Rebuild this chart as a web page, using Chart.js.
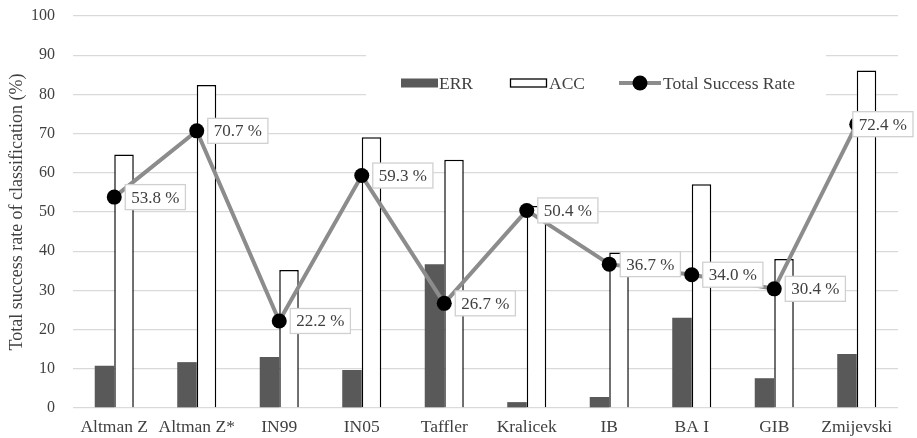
<!DOCTYPE html>
<html lang="en">
  <head>
    <meta charset="UTF-8" />
    <title>Total success rate of classification</title>
    <script src="https://cdn.jsdelivr.net/npm/chart.js"></script>
    <style>
      * {
        box-sizing: border-box;
        padding: 0;
        margin: 0;
      }
      body {
        background: #fff;
      }
      .wrap {
        width: 917px;
        height: 438px;
      }
    </style>
  </head>
  <body>
    <div class="wrap">
      <canvas id="myChart"></canvas>
    </div>
  </body>
  <script>
    const models = [
      "Altman Z", "Altman Z*", "IN99", "IN05", "Taffler",
      "Kralicek", "IB", "BA I", "GIB", "Zmijevski",
    ];
    const errValues = [10.8, 11.7, 13.0, 9.7, 36.7, 1.5, 2.8, 23.0, 7.6, 13.8];
    const accValues = [64.7, 82.4, 35.2, 69.1, 63.3, 51.5, 39.7, 57.1, 38.0, 86.1];
    const totalRate = [53.8, 70.7, 22.2, 59.3, 26.7, 50.4, 36.7, 34.0, 30.4, 72.4];
    const yTicks = [0, 10, 20, 30, 40, 50, 60, 70, 80, 90, 100];

    const serif = "'Liberation Serif', 'DejaVu Serif', serif";
    const textColor = "#404040";

    // white boxes with the value, right of each point
    const pointLabels = {
      id: "pointLabels",
      afterDatasetsDraw(chart) {
        const ctx = chart.ctx;
        const meta = chart.getDatasetMeta(2);
        ctx.save();
        ctx.font = "17px " + serif;
        ctx.textBaseline = "middle";
        meta.data.forEach((pt, i) => {
          const text = totalRate[i].toFixed(1) + " %";
          const w = ctx.measureText(text).width + 12;
          const h = 25;
          let x = pt.x + 11;
          if (x + w > chart.width - 4) x = chart.width - 4 - w;
          const y = pt.y - h / 2;
          ctx.fillStyle = "#fff";
          ctx.fillRect(x, y, w, h);
          ctx.strokeStyle = "#d0d0d0";
          ctx.lineWidth = 1.3;
          ctx.strokeRect(x, y, w, h);
          ctx.fillStyle = textColor;
          ctx.fillText(text, x + 6, pt.y + 1);
        });
        ctx.restore();
      },
    };

    // legend sits inside the plot on a white box
    const innerLegend = {
      id: "innerLegend",
      beforeDatasetsDraw(chart) {
        const ctx = chart.ctx;
        const ds = chart.data.datasets;
        ctx.save();
        ctx.fillStyle = "#fff";
        ctx.fillRect(366, 48, 460, 54);
        const cy = 83;
        ctx.font = "17.5px " + serif;
        ctx.textBaseline = "middle";

        ctx.fillStyle = ds[0].backgroundColor;
        ctx.fillRect(401, cy - 4.5, 37, 9);
        ctx.fillStyle = textColor;
        ctx.fillText(ds[0].label, 439, cy + 1);

        ctx.fillStyle = "#fff";
        ctx.fillRect(510, cy - 4.5, 37, 9);
        ctx.strokeStyle = ds[1].borderColor;
        ctx.lineWidth = 1.3;
        ctx.strokeRect(510.5, cy - 4, 36, 8);
        ctx.fillStyle = textColor;
        ctx.fillText(ds[1].label, 549, cy + 1);

        ctx.strokeStyle = ds[2].borderColor;
        ctx.lineWidth = 4;
        ctx.beginPath();
        ctx.moveTo(619, cy);
        ctx.lineTo(661, cy);
        ctx.stroke();
        ctx.fillStyle = ds[2].pointBackgroundColor;
        ctx.beginPath();
        ctx.arc(640, cy, 7.5, 0, Math.PI * 2);
        ctx.fill();
        ctx.fillStyle = textColor;
        ctx.fillText(ds[2].label, 663, cy + 1);
        ctx.restore();
      },
    };

    const ctx = document.getElementById("myChart").getContext("2d");
    const myChart = new Chart(ctx, {
      data: {
        labels: models,
        datasets: [
          {
            type: "bar",
            label: "ERR",
            data: errValues,
            backgroundColor: "#595959",
            borderWidth: 0,
            order: 2,
          },
          {
            type: "bar",
            label: "ACC",
            data: accValues,
            backgroundColor: "#fff",
            borderColor: "#000",
            borderWidth: 1.5,
            order: 2,
          },
          {
            type: "line",
            label: "Total Success Rate",
            data: totalRate,
            borderColor: "#8c8c8c",
            borderWidth: 4,
            pointRadius: 7.5,
            pointBackgroundColor: "#000",
            pointBorderWidth: 0,
            order: 1,
          },
        ],
      },
      options: {
        responsive: true,
        maintainAspectRatio: false,
        animation: false,
        datasets: {
          bar: {
            barPercentage: 1,
            categoryPercentage: 0.473,
          },
        },
        layout: {
          padding: { top: 16, right: 19, left: 0, bottom: 0 },
        },
        plugins: {
          legend: { display: false },
          tooltip: { enabled: false },
        },
        scales: {
          x: {
            grid: { display: false },
            border: { display: false },
            ticks: {
              color: textColor,
              font: { family: serif, size: 17.5 },
              padding: 1,
              maxRotation: 0,
              autoSkip: false,
            },
            afterFit: (scale) => {
              scale.height = 30;
            },
          },
          y: {
            min: 0,
            max: 100,
            afterBuildTicks: (scale) => {
              scale.ticks = yTicks.map((v) => ({ value: v }));
            },
            grid: {
              color: "#d9d9d9",
              lineWidth: 1.3,
              drawTicks: true,
              tickLength: 15,
              tickColor: "rgba(0,0,0,0)",
            },
            border: { display: false },
            ticks: {
              color: textColor,
              font: { family: serif, size: 16 },
              padding: 3,
            },
            title: {
              display: true,
              text: "Total success rate of classification (%)",
              color: textColor,
              font: { family: serif, size: 18 },
              padding: { top: 6, bottom: 0 },
            },
            afterFit: (scale) => {
              scale.width = 73;
            },
          },
        },
      },
      plugins: [innerLegend, pointLabels],
    });
  </script>
</html>
